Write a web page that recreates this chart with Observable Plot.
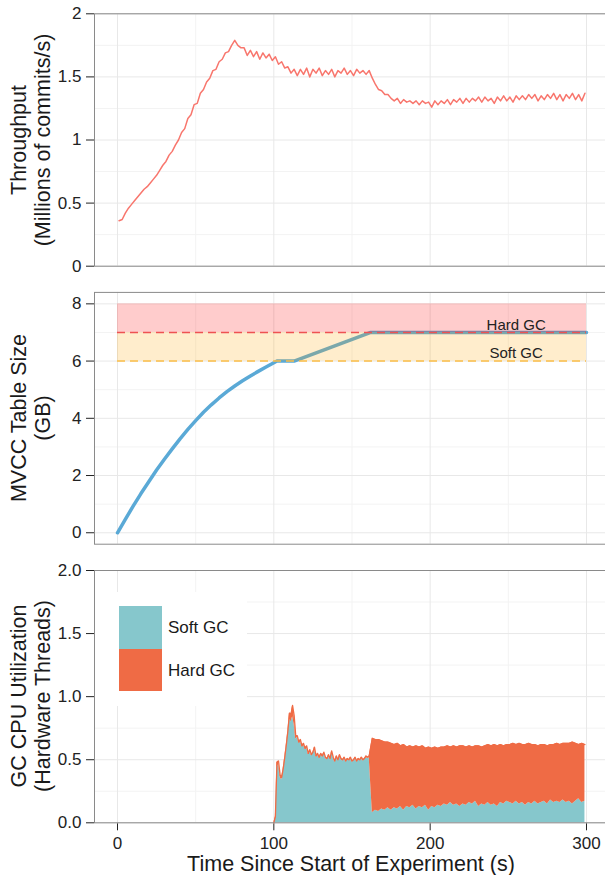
<!DOCTYPE html>
<html>
<head>
<meta charset="utf-8">
<script src="https://cdn.jsdelivr.net/npm/d3@7"></script>
<script src="https://cdn.jsdelivr.net/npm/@observablehq/plot@0.6"></script>
<style>
  body { margin: 0; background: #fff; }
  #chart { position: relative; width: 605px; height: 875px; overflow: hidden;
           font-family: "Liberation Sans", Arial, Helvetica, sans-serif; color: #1a1a1a; background: #fff; }
  .panel { position: absolute; left: 0; }
  .ytitle { position: absolute; transform: translate(-50%, -50%) rotate(-90deg); text-align: center;
            font-size: 21.5px; line-height: 24px; white-space: nowrap; }
  .xtitle { position: absolute; text-align: center; font-size: 21.5px; line-height: 16px; white-space: nowrap; }
  .legend { position: absolute; background: #fff; }
  .key { position: absolute; }
  .keylabel { position: absolute; font-size: 17px; line-height: 20px; white-space: nowrap; transform: translateY(-50%); }
</style>
</head>
<body>
<div id="chart"></div>
<script>
// ---------- shared x axis ----------
const xMajor = [0, 100, 200, 300];
const xMinor = [50, 150, 250];
const xTitle = "Time Since Start of Experiment (s)";

// ---------- panel 1: throughput (sampled every 2 s, t = 1..299) ----------
const tpStart = 1, tpStep = 2;
const tpValue = [
  0.36,0.37,0.42,0.46,0.49,0.52,0.55,0.58,0.61,0.63,0.66,0.69,0.72,0.76,0.80,0.83,0.88,0.91,0.96,1.00,
  1.06,1.09,1.17,1.20,1.28,1.29,1.37,1.40,1.46,1.49,1.55,1.56,1.62,1.64,1.69,1.70,1.75,1.79,1.75,1.73,
  1.73,1.67,1.71,1.66,1.70,1.64,1.69,1.65,1.68,1.63,1.66,1.60,1.62,1.57,1.58,1.53,1.56,1.51,1.56,1.52,
  1.57,1.50,1.56,1.53,1.57,1.51,1.55,1.52,1.56,1.50,1.55,1.53,1.57,1.52,1.55,1.51,1.56,1.53,1.55,1.52,
  1.55,1.49,1.44,1.40,1.39,1.36,1.36,1.33,1.31,1.33,1.29,1.32,1.30,1.31,1.29,1.31,1.28,1.31,1.29,1.30,
  1.26,1.31,1.28,1.31,1.29,1.32,1.28,1.32,1.30,1.33,1.29,1.33,1.30,1.33,1.31,1.34,1.30,1.34,1.31,1.33,
  1.29,1.34,1.31,1.35,1.31,1.34,1.30,1.35,1.32,1.35,1.32,1.36,1.33,1.36,1.31,1.35,1.32,1.36,1.33,1.37,
  1.32,1.36,1.31,1.36,1.33,1.37,1.32,1.36,1.31,1.37
];
const tpYTicks = [0, 0.5, 1, 1.5, 2];
const tpYLabels = ["0", "0.5", "1", "1.5", "2"];
const tpYMinor = [0.25, 0.75, 1.25, 1.75];
const tpTitle = ["Throughput", "(Millions of commits/s)"];

// ---------- panel 2: MVCC table size ----------
const mvccTime = [0,5,10,15,20,25,30,35,40,45,50,55,60,65,70,75,80,85,90,95,100,102,113,162,300];
const mvccSize = [0,0.47,0.93,1.37,1.78,2.19,2.57,2.93,3.28,3.61,3.92,4.21,4.47,4.71,4.93,5.13,5.31,5.48,5.64,5.79,5.94,6.0,6.0,7.0,7.0];
const bandNames = ["Hard GC", "Soft GC"];
const bandLow = [7, 6];
const bandHigh = [8, 7];
const bandStart = [0, 0];
const bandEnd = [300, 300];
const bandFill = ["#ff0000", "#ffa500"];
const bandLine = ["#ee5252", "#fbbd45"];
const bandLabelT = [255, 255];
const bandLabelV = [7.27, 6.28];
const mvccYTicks = [0, 2, 4, 6, 8];
const mvccYMinor = [1, 3, 5, 7];
const mvccTitle = ["MVCC Table Size", "(GB)"];

// ---------- panel 3: GC CPU utilization ----------
const gcTime = [
  100,101,102,103,104,105,106,107,108,109,110,111,112,113,114,115,116,117,118,119,
  120,121,122,123,124,125,126,127,128,129,130,131,132,133,134,135,136,137,138,139,
  140,141,142,143,144,145,146,147,148,149,150,151,152,153,154,155,156,157,158,159,
  160,161,162,163,165,167,169,171,173,175,177,179,181,183,185,187,189,191,193,195,
  197,199,201,203,205,207,209,211,213,215,217,219,221,223,225,227,229,231,233,235,
  237,239,241,243,245,247,249,251,253,255,257,259,261,263,265,267,269,271,273,275,
  277,279,281,283,285,287,289,291,293,295,297,299
];
const softGC = [
  0,0.02,0.44,0.46,0.36,0.34,0.41,0.50,0.60,0.70,0.82,0.80,0.84,0.78,0.66,0.68,0.63,0.65,0.60,0.62,
  0.58,0.60,0.54,0.57,0.53,0.55,0.59,0.52,0.54,0.51,0.54,0.52,0.55,0.51,0.50,0.53,0.50,0.56,0.51,0.48,
  0.52,0.49,0.53,0.50,0.49,0.51,0.48,0.50,0.49,0.51,0.48,0.49,0.51,0.48,0.50,0.49,0.51,0.49,0.50,0.52,
  0.51,0.52,0.30,0.08,0.10,0.09,0.11,0.10,0.12,0.10,0.12,0.11,0.13,0.10,0.13,0.12,0.14,0.11,0.13,0.12,
  0.14,0.10,0.13,0.12,0.14,0.13,0.15,0.14,0.16,0.14,0.15,0.13,0.15,0.14,0.16,0.15,0.17,0.13,0.15,0.14,
  0.16,0.14,0.15,0.13,0.16,0.15,0.17,0.16,0.15,0.17,0.15,0.16,0.14,0.16,0.15,0.17,0.15,0.16,0.17,0.15,
  0.18,0.16,0.17,0.16,0.18,0.16,0.17,0.15,0.17,0.19,0.16,0.17
];
const hardGC = [
  0,0.03,0.04,0.03,0.02,0.02,0.02,0.02,0.02,0.03,0.05,0.06,0.09,0.07,0.03,0.01,0.01,0.01,0.01,0.01,
  0.01,0.01,0.01,0.01,0.01,0.01,0.01,0.01,0.01,0.01,0.01,0.01,0.01,0.01,0.01,0.01,0.01,0.01,0.01,0.01,
  0.01,0.01,0.01,0.01,0.01,0.01,0.01,0.01,0.01,0.01,0.01,0.01,0.01,0.01,0.01,0.01,0.01,0.01,0.01,0.01,
  0.01,0.01,0.30,0.59,0.56,0.57,0.54,0.54,0.52,0.53,0.50,0.52,0.48,0.52,0.47,0.49,0.46,0.50,0.47,0.49,
  0.45,0.50,0.46,0.48,0.45,0.47,0.45,0.47,0.44,0.47,0.45,0.48,0.46,0.46,0.45,0.45,0.44,0.48,0.45,0.47,
  0.46,0.47,0.47,0.48,0.46,0.46,0.45,0.46,0.48,0.45,0.48,0.46,0.48,0.47,0.47,0.45,0.46,0.46,0.45,0.46,
  0.44,0.46,0.46,0.46,0.45,0.47,0.46,0.49,0.46,0.43,0.47,0.45
];
const gcSeries = ["Soft GC", "Hard GC"];
const gcColors = ["#86c7cc", "#ef6b45"];
const gcYTicks = [0, 0.5, 1, 1.5, 2];
const gcYLabels = ["0.0", "0.5", "1.0", "1.5", "2.0"];
const gcYMinor = [0.25, 0.75, 1.25, 1.75];
const gcTitle = ["GC CPU Utilization", "(Hardware Threads)"];

// ---------- layout helpers ----------
const W = 605, ML = 94, MR = -3;
const pxPerUnit = (586 - 117) / 300;
const xDomain = [-(117 - ML) / pxPerUnit, (W - MR - 117) / pxPerUnit];
const style = {fontFamily: "Liberation Sans, Arial, Helvetica, sans-serif", fontSize: "17px",
               color: "#222", background: "transparent", overflow: "visible"};
const gridMajor = "#e8e8e8", gridMinor = "#f3f3f3", frameColor = "#8a8a8a";

const chart = document.getElementById("chart");
function place(node, top) {
  const d = document.createElement("div");
  d.className = "panel"; d.style.top = top + "px";
  d.appendChild(node); chart.appendChild(d);
}
function yTitle(lines, cx, cy) {
  const d = document.createElement("div");
  d.className = "ytitle";
  d.style.left = cx + "px"; d.style.top = cy + "px";
  d.innerHTML = lines.map(s => `<div>${s}</div>`).join("");
  chart.appendChild(d);
}
function grid(yMajor, yMinor) {
  return [
    Plot.ruleX(xMinor, {stroke: gridMinor}),
    Plot.ruleY(yMinor, {stroke: gridMinor}),
    Plot.ruleX(xMajor, {stroke: gridMajor}),
    Plot.ruleY(yMajor, {stroke: gridMajor})
  ];
}

// ---------- panel 1 ----------
const tpRows = tpValue.map((v, i) => ({t: tpStart + i * tpStep, v}));
place(Plot.plot({
  width: W, height: 280, marginLeft: ML, marginRight: MR, marginTop: 13.3, marginBottom: 14.3,
  style,
  x: {domain: xDomain, axis: null},
  y: {domain: [0, 2], ticks: tpYTicks, tickFormat: d => tpYLabels[tpYTicks.indexOf(d)], tickSize: 8, tickPadding: 5, label: null},
  marks: [
    ...grid(tpYTicks, tpYMinor),
    Plot.line(tpRows, {x: "t", y: "v", stroke: "#f8766d", strokeWidth: 1.5}),
    Plot.frame({stroke: frameColor})
  ]
}), 0);
yTitle(tpTitle, 31, 139.5);

// ---------- panel 2 ----------
const mvccRows = mvccTime.map((t, i) => ({t, v: mvccSize[i]}));
const bands = bandNames.map((name, i) => ({name, lo: bandLow[i], hi: bandHigh[i], t1: bandStart[i], t2: bandEnd[i],
  fill: bandFill[i], line: bandLine[i], lt: bandLabelT[i], lv: bandLabelV[i]}));
place(Plot.plot({
  width: W, height: 275, marginLeft: ML, marginRight: MR, marginTop: 11.9, marginBottom: 11.3,
  style,
  x: {domain: xDomain, axis: null},
  y: {domain: [-0.4, 8.4], ticks: mvccYTicks, tickSize: 8, tickPadding: 5, label: null},
  marks: [
    ...grid(mvccYTicks, mvccYMinor),
    Plot.line(mvccRows, {x: "t", y: "v", stroke: "#5aa9d6", strokeWidth: 3.5}),
    Plot.rect(bands, {x1: "t1", x2: "t2", y1: "lo", y2: "hi", fill: d => d.fill, fillOpacity: 0.2}),
    Plot.ruleY(bands, {y: "lo", x1: "t1", x2: "t2", stroke: d => d.line, strokeWidth: 1.6, strokeDasharray: "8,5"}),
    Plot.text(bands, {x: "lt", y: "lv", text: "name", fill: "#222", fontSize: 15}),
    Plot.frame({stroke: frameColor})
  ]
}), 280);
yTitle(mvccTitle, 31, 417.8);

// ---------- panel 3 ----------
const gcRows = [];
gcTime.forEach((t, i) => {
  gcRows.push({t, type: gcSeries[0], v: softGC[i]});
  gcRows.push({t, type: gcSeries[1], v: hardGC[i]});
});
const gcTotal = gcTime.map((t, i) => ({t, v: softGC[i] + hardGC[i]}));
place(Plot.plot({
  width: W, height: 320, marginLeft: ML, marginRight: MR, marginTop: 15, marginBottom: 52.7,
  style,
  color: {domain: gcSeries, range: gcColors},
  x: {domain: xDomain, ticks: xMajor, tickSize: 8, tickPadding: 6, label: null},
  y: {domain: [0, 2], ticks: gcYTicks, tickFormat: d => gcYLabels[gcYTicks.indexOf(d)], tickSize: 8, tickPadding: 5, label: null},
  marks: [
    ...grid(gcYTicks, gcYMinor),
    Plot.areaY(gcRows, {x: "t", y: "v", fill: "type", z: "type", order: gcSeries}),
    Plot.line(gcTotal, {x: "t", y: "v", stroke: gcColors[1], strokeWidth: 1.3}),
    Plot.frame({stroke: frameColor})
  ]
}), 555);
yTitle(gcTitle, 31, 696);

// legend (inside bottom panel)
const lg = document.createElement("div");
lg.className = "legend";
Object.assign(lg.style, {left: "95px", top: "592px", width: "152px", height: "114px"});
chart.appendChild(lg);
gcSeries.forEach((s, i) => {
  const k = document.createElement("div");
  k.className = "key";
  Object.assign(k.style, {left: "119px", top: (606 + i * 42.5) + "px", width: "43px", height: "42.5px", background: gcColors[i]});
  chart.appendChild(k);
  const l = document.createElement("div");
  l.className = "keylabel";
  Object.assign(l.style, {left: "168px", top: (628 + i * 43) + "px"});
  l.textContent = s;
  chart.appendChild(l);
});

// x title
const xt = document.createElement("div");
xt.className = "xtitle";
Object.assign(xt.style, {left: ML + "px", width: (W - MR - ML) + "px", top: "856px"});
xt.textContent = xTitle;
chart.appendChild(xt);
</script>
</body>
</html>
